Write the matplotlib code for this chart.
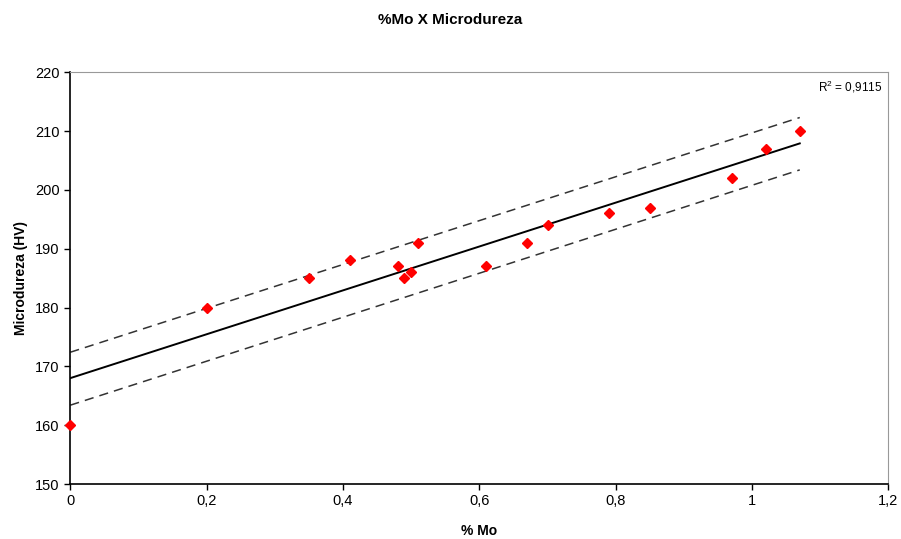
import matplotlib
matplotlib.use("Agg")
from matplotlib import pyplot as plt

plt.rcParams['font.family'] = ['Liberation Sans', 'DejaVu Sans']

# measured points
mo = [0, 0.2, 0.35, 0.41, 0.48, 0.49, 0.5, 0.51, 0.61, 0.67, 0.7, 0.79, 0.85, 0.97, 1.02, 1.07]
hv = [160, 180, 185, 188, 187, 185, 186, 191, 187, 191, 194, 196, 197, 202, 207, 210]

# trend line and band
fit_x = [0, 1.07]
fit_y = [168.0, 207.9]
upper_y = [172.4, 212.3]
lower_y = [163.4, 203.4]

xticks = [0, 0.2, 0.4, 0.6, 0.8, 1, 1.2]
xlabels = ['0', '0,2', '0,4', '0,6', '0,8', '1', '1,2']
yticks = [150, 160, 170, 180, 190, 200, 210, 220]

fig = plt.figure(figsize=(9.01, 5.39), dpi=100)
ax = fig.add_axes([0.078, 0.102, 0.908, 0.764])

ax.plot(fit_x, upper_y, '--', color='#333333', lw=1.1, dashes=(6, 4))
ax.plot(fit_x, lower_y, '--', color='#333333', lw=1.1, dashes=(6, 4))
ax.plot(fit_x, fit_y, '-', color='black', lw=1.4)
ax.plot(mo, hv, 'D', color='red', markersize=5, clip_on=False, zorder=5)

ax.set_xlim(0, 1.2)
ax.set_ylim(150, 220)
ax.set_xticks(xticks)
ax.set_xticklabels(xlabels)
ax.set_yticks(yticks)
ax.tick_params(direction='out', length=4, labelsize=10.5, colors='black', width=1)

for s in ['top', 'right']:
    ax.spines[s].set_color('#999999')
for s in ['left', 'bottom']:
    ax.spines[s].set_color('black')
    ax.spines[s].set_linewidth(1.2)

ax.set_xlabel('% Mo', fontsize=10, fontweight='bold', labelpad=11)
ax.set_ylabel('Microdureza (HV)', fontsize=10, fontweight='bold', labelpad=5)
fig.suptitle('%Mo X Microdureza', fontsize=11, fontweight='bold', y=0.975)

ax.text(0.993, 0.965, '$\\mathregular{R^2}$ = 0,9115', transform=ax.transAxes,
        ha='right', va='center', fontsize=8.5)

fig.savefig('out.png', dpi=100)
